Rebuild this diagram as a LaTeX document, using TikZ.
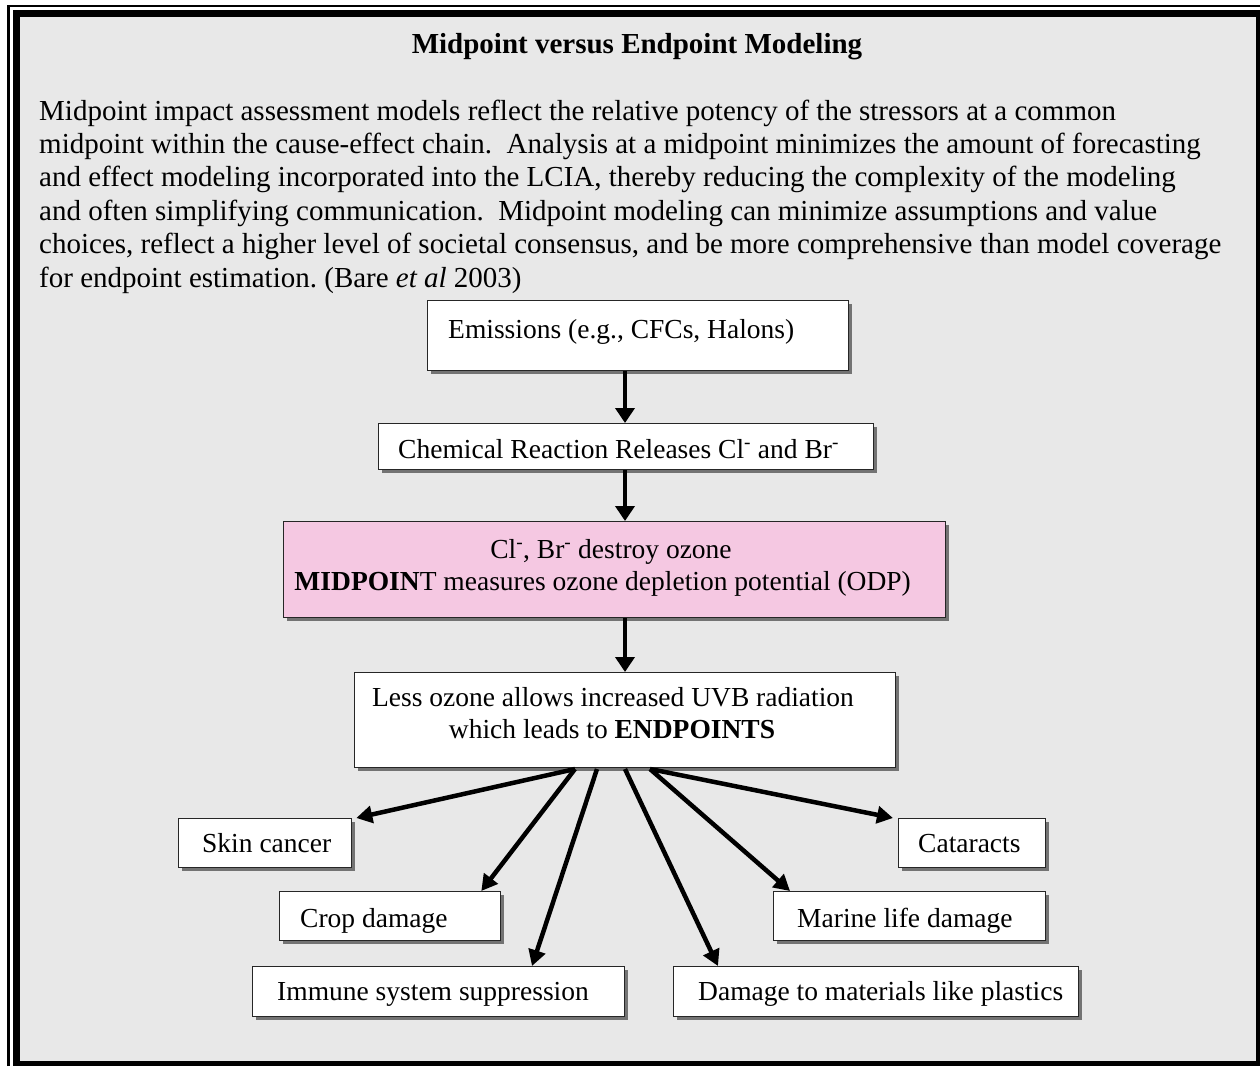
\documentclass[tikz,border=0pt]{standalone}
\usepackage{fontspec}
\setmainfont{Liberation Serif}
\usetikzlibrary{arrows.meta,shadows}
\definecolor{panel}{RGB}{232,232,232}
\definecolor{midpink}{RGB}{245,200,226}
\definecolor{shade}{RGB}{115,115,115}
\frenchspacing
\begin{document}
\begin{tikzpicture}[x=1pt,y=-1pt,
  body/.style={inner sep=0pt,anchor=base west,font=\fontsize{29}{33}\selectfont},
  boxtxt/.style={inner sep=0pt,font=\fontsize{27.5}{30}\selectfont},
  chartbox/.style={draw=black!85,line width=1.3pt,fill=white,anchor=north west,
    inner sep=0pt,
    drop shadow={shadow xshift=3pt,shadow yshift=-3pt,fill=shade,opacity=1}},
  flow/.style={line width=4.5pt,-{Triangle[length=15pt,width=19pt]}},
  fan/.style={line width=4.5pt,-{Triangle[length=16pt,width=17pt]}}
]
\useasboundingbox (0,0) rectangle (1260,1066);
% frame
\fill[white] (0,0) rectangle (1260,1066);
\fill[black] (13,10) rectangle (1260,1066);
\fill[panel] (20,17) rectangle (1256,1061);
\draw[line width=2.5pt] (8.6,1066) |- (1260,6.2);

% heading and paragraph
\node[inner sep=0pt,anchor=base,font=\fontsize{29}{33}\selectfont\bfseries] (title) at (637,53)
  {Midpoint versus Endpoint Modeling};
\node[body] (p1) at (39,120) {Midpoint impact assessment models reflect the relative potency of the stressors at a common};
\node[body] (p2) at (39,153.4) {midpoint within the cause-effect chain.\ \ Analysis at a midpoint minimizes the amount of forecasting};
\node[body] (p3) at (39,186.8) {and effect modeling incorporated into the LCIA, thereby reducing the complexity of the modeling};
\node[body] (p4) at (39,220.2) {and often simplifying communication.\ \ Midpoint modeling can minimize assumptions and value};
\node[body] (p5) at (39,253.6) {choices, reflect a higher level of societal consensus, and be more comprehensive than model coverage};
\node[body] (p6) at (39,287) {for endpoint estimation. (Bare \textit{et al} 2003)};

% chain boxes
\node[chartbox,minimum width=421pt,minimum height=70pt] (em) at (427,300) {};
\node[chartbox,minimum width=495pt,minimum height=46pt] (chem) at (378,423) {};
\node[chartbox,fill=midpink,minimum width=662pt,minimum height=96pt] (mid) at (283,521) {};
\node[chartbox,minimum width=541pt,minimum height=95pt] (endp) at (354,672) {};

\node[boxtxt,anchor=base west] (emt) at (448,338) {Emissions (e.g., CFCs, Halons)};
\node[boxtxt,anchor=base west] (chemt) at (398,458) {Chemical Reaction Releases Cl\textsuperscript{-} and Br\textsuperscript{-}};
\node[boxtxt,anchor=base] (midt1) at (611,558) {Cl\textsuperscript{-}, Br\textsuperscript{-} destroy ozone};
\node[boxtxt,anchor=base east] (midt2) at (911,590) {\textbf{MIDPOIN}T measures ozone depletion potential (ODP)};
\node[boxtxt,anchor=base] (endt1) at (613,706) {Less ozone allows increased UVB radiation};
\node[boxtxt,anchor=base] (endt2) at (612,738) {which leads to \textbf{ENDPOINTS}};

% endpoint boxes
\node[chartbox,minimum width=173pt,minimum height=49pt] (skin) at (178,818) {};
\node[chartbox,minimum width=221pt,minimum height=49pt] (crop) at (279,891) {};
\node[chartbox,minimum width=372pt,minimum height=50pt] (imm) at (252,966) {};
\node[chartbox,minimum width=147pt,minimum height=49pt] (cat) at (898,818) {};
\node[chartbox,minimum width=272pt,minimum height=49pt] (mar) at (773,891) {};
\node[chartbox,minimum width=405pt,minimum height=50pt] (dam) at (673,966) {};

\node[boxtxt,anchor=base west] (skint) at (202,852) {Skin cancer};
\node[boxtxt,anchor=base west] (cropt) at (300,927) {Crop damage};
\node[boxtxt,anchor=base west] (immt) at (277,1000) {Immune system suppression};
\node[boxtxt,anchor=base west] (catt) at (918,852) {Cataracts};
\node[boxtxt,anchor=base west] (mart) at (797,927) {Marine life damage};
\node[boxtxt,anchor=base west] (damt) at (698,1000) {Damage to materials like plastics};

% vertical chain
\coordinate (axis) at (625,0);
\draw[flow] (axis |- em.south) -- (axis |- chem.north);
\draw[flow] (axis |- chem.south) -- (axis |- mid.north);
\draw[flow] (axis |- mid.south) -- (axis |- endp.north);

% fan of effects
\coordinate (o1) at (575,769);
\coordinate (o2) at (597,769);
\coordinate (o3) at (625,769);
\coordinate (o4) at (650,769);
\draw[fan] (o1) -- ([xshift=4pt]skin.north east);
\draw[fan] (o1) -- ([xshift=-20pt]crop.north east);
\draw[fan] (o2) -- ([xshift=280pt]imm.north west);
\draw[fan] (o3) -- ([xshift=45pt]dam.north west);
\draw[fan] (o4) -- ([xshift=17pt]mar.north west);
\draw[fan] (o4) -- ([xshift=-5pt]cat.north west);
\end{tikzpicture}
\end{document}
